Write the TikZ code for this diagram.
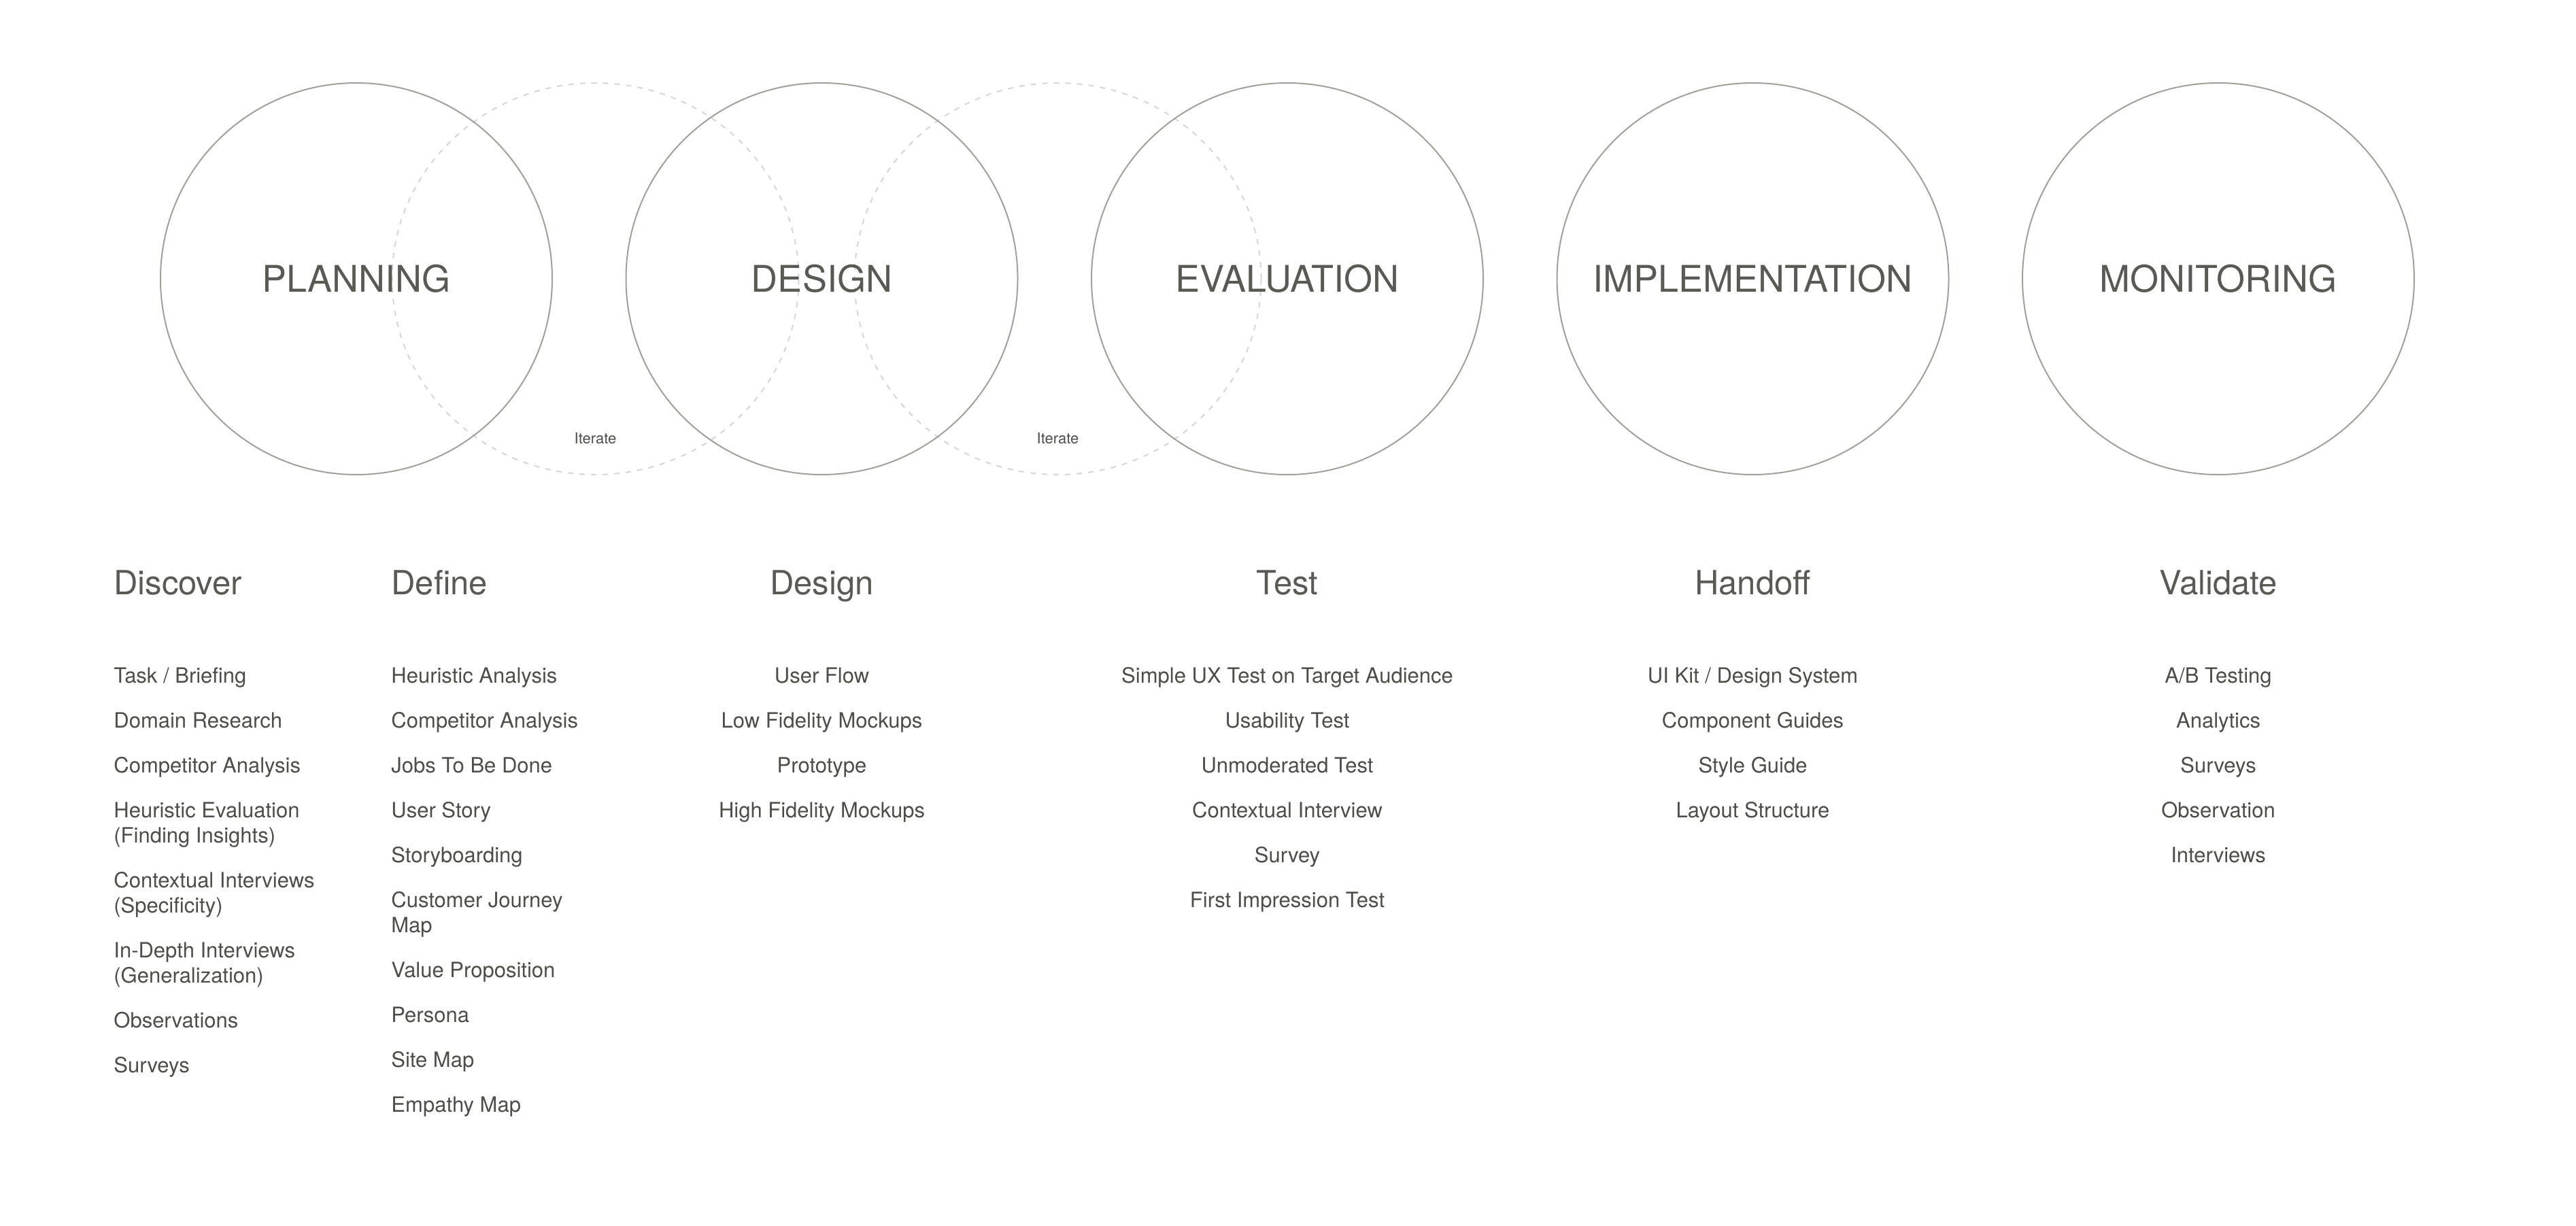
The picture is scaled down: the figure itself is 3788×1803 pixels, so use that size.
\documentclass[tikz,border=0pt]{standalone}
\usepackage{fontspec}
\setmainfont{TeX Gyre Heros}
\usetikzlibrary{shapes.geometric}
\definecolor{txt}{HTML}{5A5953}
\definecolor{itxt}{HTML}{4E4D48}
\definecolor{ring}{HTML}{A3A09A}
\definecolor{iterc}{HTML}{D6D6D6}
\begin{document}
\begin{tikzpicture}[x=0.5pt,y=-0.5pt,
 phase/.style={circle,draw=ring,line width=1pt,minimum size=288pt,inner sep=0pt,text=txt,font=\fontsize{27}{30}\selectfont},
 loopring/.style={ellipse,draw=iterc,line width=1pt,dash pattern=on 4pt off 4.5pt,minimum width=299pt,minimum height=288pt,inner sep=0pt},
 itlbl/.style={text=itxt,font=\fontsize{11}{13}\selectfont,anchor=base,inner sep=0pt},
 head/.style={text=txt,font=\fontsize{24.5}{28}\selectfont,inner sep=0pt},
 item/.style={text=itxt,font=\fontsize{15.5}{18.5}\selectfont,inner sep=0pt},
 iteml/.style={item,anchor=base west},
 itemc/.style={item,anchor=base},
]
\useasboundingbox (0,0) rectangle (3788,1803);
\fill[white] (0,0) rectangle (3788,1803);

% iterate loops
\node[loopring] (loopA) at (875.5,410) {};
\node[loopring] (loopB) at (1555.5,410) {};
\node[itlbl] (iterA) at (875.5,652) {Iterate};
\node[itlbl] (iterB) at (1555.5,652) {Iterate};

% phases
\node[phase] (planning) at (524,410) {PLANNING};
\node[phase] (design) at (1208.5,410) {DESIGN};
\node[phase] (evaluation) at (1893,410) {EVALUATION};
\node[phase] (implementation) at (2577.5,410) {IMPLEMENTATION};
\node[phase] (monitoring) at (3262,410) {MONITORING};

% headings
\node[head,anchor=base west] (hDiscover) at (167,874) {Discover};
\node[head,anchor=base west] (hDefine) at (575,874) {Define};
\node[head,anchor=base] (hDesign) at (1208.5,874) {Design};
\node[head,anchor=base] (hTest) at (1893,874) {Test};
\node[head,anchor=base] (hHandoff) at (2577.5,874) {Handoff};
\node[head,anchor=base] (hValidate) at (3262,874) {Validate};

% Discover
\node[iteml] (di1) at (167,1004) {Task / Briefing};
\node[iteml] (di2) at (167,1070) {Domain Research};
\node[iteml] (di3) at (167,1136) {Competitor Analysis};
\node[iteml] (di4a) at (167,1202) {Heuristic Evaluation};
\node[iteml] (di4b) at (167,1239) {(Finding Insights)};
\node[iteml] (di5a) at (167,1305) {Contextual Interviews};
\node[iteml] (di5b) at (167,1342) {(Specificity)};
\node[iteml] (di6a) at (167,1408) {In-Depth Interviews};
\node[iteml] (di6b) at (167,1445) {(Generalization)};
\node[iteml] (di7) at (167,1511) {Observations};
\node[iteml] (di8) at (167,1577) {Surveys};

% Define
\node[iteml] (de1) at (575,1004) {Heuristic Analysis};
\node[iteml] (de2) at (575,1070) {Competitor Analysis};
\node[iteml] (de3) at (575,1136) {Jobs To Be Done};
\node[iteml] (de4) at (575,1202) {User Story};
\node[iteml] (de5) at (575,1268) {Storyboarding};
\node[iteml] (de6a) at (575,1334) {Customer Journey};
\node[iteml] (de6b) at (575,1371) {Map};
\node[iteml] (de7) at (575,1437) {Value Proposition};
\node[iteml] (de8) at (575,1503) {Persona};
\node[iteml] (de9) at (575,1569) {Site Map};
\node[iteml] (de10) at (575,1635) {Empathy Map};

% Design
\node[itemc] (ds1) at (1208.5,1004) {User Flow};
\node[itemc] (ds2) at (1208.5,1070) {Low Fidelity Mockups};
\node[itemc] (ds3) at (1208.5,1136) {Prototype};
\node[itemc] (ds4) at (1208.5,1202) {High Fidelity Mockups};

% Test
\node[itemc] (ts1) at (1893,1004) {Simple UX Test on Target Audience};
\node[itemc] (ts2) at (1893,1070) {Usability Test};
\node[itemc] (ts3) at (1893,1136) {Unmoderated Test};
\node[itemc] (ts4) at (1893,1202) {Contextual Interview};
\node[itemc] (ts5) at (1893,1268) {Survey};
\node[itemc] (ts6) at (1893,1334) {First Impression Test};

% Handoff
\node[itemc] (ho1) at (2577.5,1004) {UI Kit / Design System};
\node[itemc] (ho2) at (2577.5,1070) {Component Guides};
\node[itemc] (ho3) at (2577.5,1136) {Style Guide};
\node[itemc] (ho4) at (2577.5,1202) {Layout Structure};

% Validate
\node[itemc] (va1) at (3262,1004) {A/B Testing};
\node[itemc] (va2) at (3262,1070) {Analytics};
\node[itemc] (va3) at (3262,1136) {Surveys};
\node[itemc] (va4) at (3262,1202) {Observation};
\node[itemc] (va5) at (3262,1268) {Interviews};
\end{tikzpicture}
\end{document}
